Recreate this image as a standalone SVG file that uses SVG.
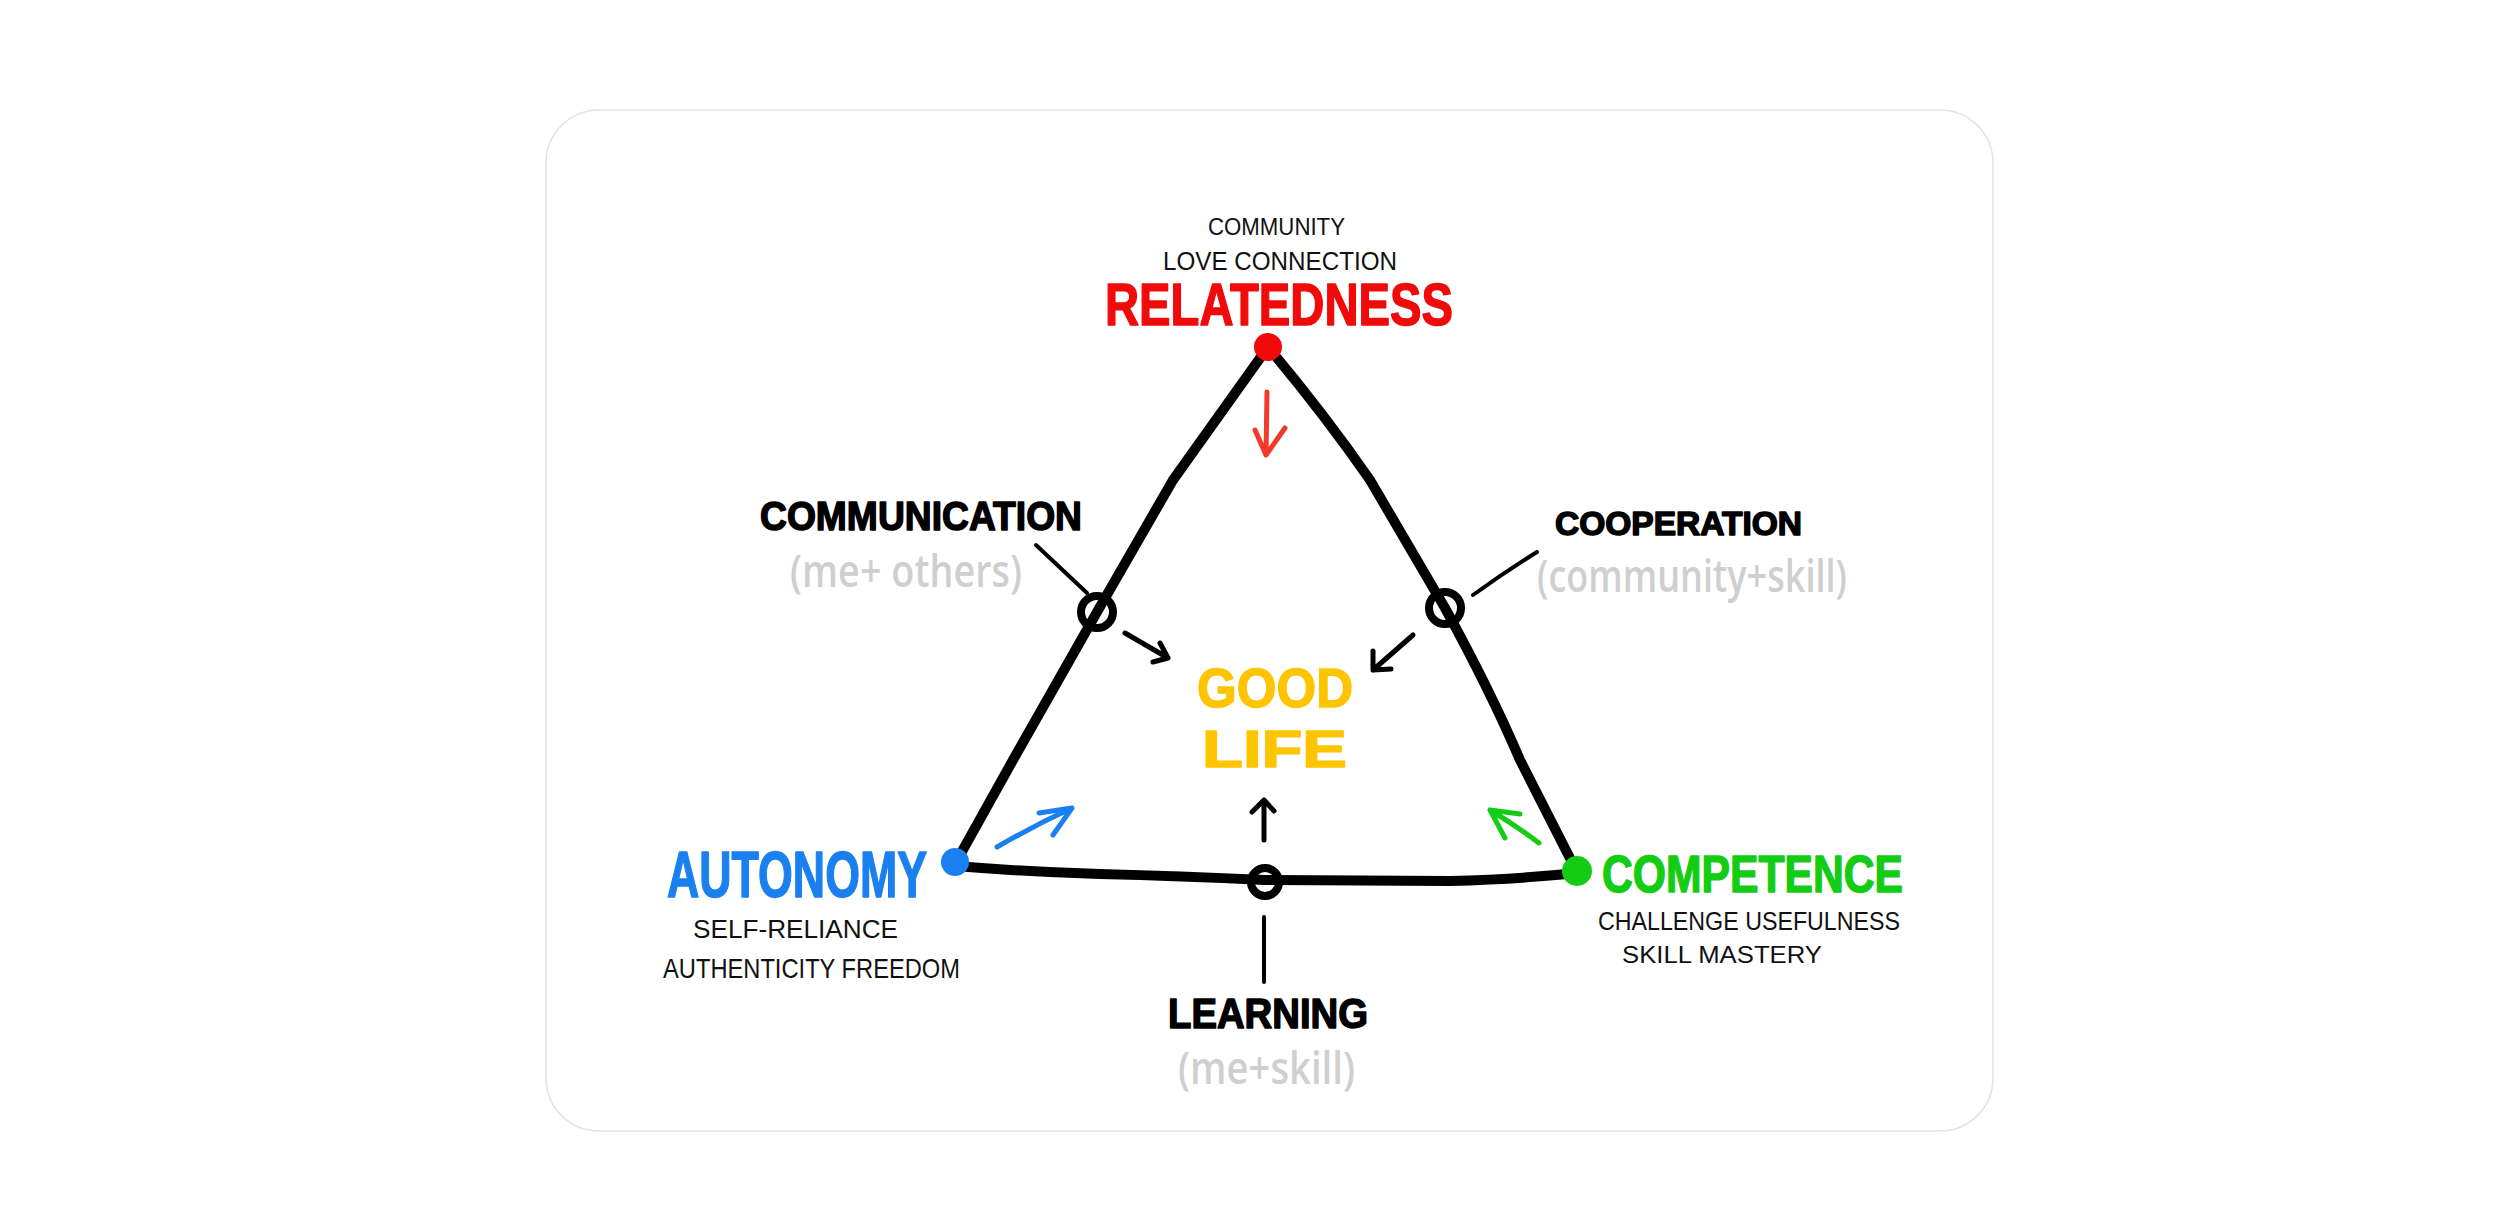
<svg xmlns="http://www.w3.org/2000/svg" width="2500" height="1216" viewBox="0 0 2500 1216">
<style>
text{font-family:"Liberation Sans",Arial,sans-serif}
.t{font-weight:bold;stroke-width:1.5;stroke-linejoin:round}
.s{fill:#111;font-weight:normal}
.g{fill:#cfcfcf;font-family:"Open Sans","Liberation Sans",sans-serif;font-weight:600}
.edge{fill:none;stroke:#000;stroke-width:10;stroke-linecap:round;stroke-linejoin:round}
.lead{fill:none;stroke:#000;stroke-width:4;stroke-linecap:round}
.arr{fill:none;stroke-width:5;stroke-linecap:round;stroke-linejoin:round}
.ring{fill:none;stroke:#000;stroke-width:8}
</style>
<rect x="0" y="0" width="2500" height="1216" fill="#ffffff"/>
<rect x="546" y="110" width="1447" height="1021" rx="53" fill="#ffffff" stroke="#e2e2e2" stroke-width="1.5"/>
<g id="connectors">
<path class="edge" d="M1268,347 L1173,480 L1097,612 L1013,760 L955,864"/>
<path class="edge" d="M1268,347 Q1325,415 1370,480 L1445,608 Q1490,690 1520,760 L1577,872"/>
<path class="edge" d="M955,866 Q1030,872 1100,874 Q1180,876 1265,880 L1450,881 Q1520,879 1577,873"/>
<path class="lead" d="M1036,545 L1087,593"/>
<path class="lead" d="M1537,552 Q1505,572 1473,595"/>
<path class="lead" d="M1264,917 L1264,982"/>
<path class="arr" stroke="#f23a2a" d="M1267,392 L1266,455 M1255,430 L1266,455 L1285,428"/>
<path class="arr" stroke="#000" d="M1125,633 L1168,658 M1160,643 L1168,658 L1153,662"/>
<path class="arr" stroke="#000" d="M1413,635 L1373,670 M1373,651 L1373,670 L1391,669"/>
<path class="arr" stroke="#000" d="M1264,840 L1264,800 M1252,812 L1264,800 L1274,811"/>
<path class="arr" stroke="#1a80f0" stroke-width="7" d="M997,847 Q1035,825 1072,808 M1039,813 L1072,808 L1053,835"/>
<path class="arr" stroke="#14cc14" stroke-width="7" d="M1539,843 Q1515,825 1490,810 M1520,814 L1490,810 L1505,838"/>
</g>
<g id="relatedness">
<circle cx="1268" cy="347" r="14" fill="#f00a0a"/>
<text class="s" x="1208" y="235" font-size="23" textLength="137" lengthAdjust="spacingAndGlyphs">COMMUNITY</text>
<text class="s" x="1163" y="270" font-size="26" textLength="234" lengthAdjust="spacingAndGlyphs">LOVE CONNECTION</text>
<text class="t" x="1105" y="325" font-size="60" fill="#f00a0a" stroke="#f00a0a" textLength="348" lengthAdjust="spacingAndGlyphs">RELATEDNESS</text>
</g>
<g id="autonomy">
<circle cx="955" cy="862" r="14" fill="#1a80f0"/>
<text class="t" x="667" y="897" font-size="64" fill="#1a80f0" stroke="#1a80f0" textLength="260" lengthAdjust="spacingAndGlyphs">AUTONOMY</text>
<text class="s" x="693" y="938" font-size="25" textLength="205" lengthAdjust="spacingAndGlyphs">SELF-RELIANCE</text>
<text class="s" x="663" y="978" font-size="28" textLength="297" lengthAdjust="spacingAndGlyphs">AUTHENTICITY FREEDOM</text>
</g>
<g id="competence">
<circle cx="1577" cy="871" r="15" fill="#14cc14"/>
<text class="t" x="1602" y="892" font-size="52" fill="#14cc14" stroke="#14cc14" textLength="301" lengthAdjust="spacingAndGlyphs">COMPETENCE</text>
<text class="s" x="1598" y="930" font-size="25" textLength="302" lengthAdjust="spacingAndGlyphs">CHALLENGE USEFULNESS</text>
<text class="s" x="1622" y="963" font-size="23" textLength="200" lengthAdjust="spacingAndGlyphs">SKILL MASTERY</text>
</g>
<g id="communication">
<circle class="ring" cx="1097" cy="612" r="16"/>
<text class="t" x="760" y="530" font-size="40" fill="#000" stroke="#000" stroke-width="1" textLength="322" lengthAdjust="spacingAndGlyphs">COMMUNICATION</text>
<text class="g" x="790" y="587" font-size="46" textLength="232" lengthAdjust="spacingAndGlyphs">(me+ others)</text>
</g>
<g id="cooperation">
<circle class="ring" cx="1445" cy="608" r="16"/>
<text class="t" x="1555" y="535" font-size="33" fill="#000" stroke="#000" stroke-width="1" textLength="247" lengthAdjust="spacingAndGlyphs">COOPERATION</text>
<text class="g" x="1537" y="592" font-size="46" textLength="310" lengthAdjust="spacingAndGlyphs">(community+skill)</text>
</g>
<g id="learning">
<circle class="ring" cx="1265" cy="882" r="14"/>
<text class="t" x="1168" y="1028" font-size="42" fill="#000" stroke="#000" stroke-width="1" textLength="200" lengthAdjust="spacingAndGlyphs">LEARNING</text>
<text class="g" x="1178" y="1084" font-size="46" textLength="177" lengthAdjust="spacingAndGlyphs">(me+skill)</text>
</g>
<g id="good-life">
<text class="t" x="1197" y="707" font-size="56" fill="#ffc400" stroke="#ffc400" stroke-width="2" textLength="156" lengthAdjust="spacingAndGlyphs">GOOD</text>
<text class="t" x="1202" y="767" font-size="52" fill="#ffc400" stroke="#ffc400" stroke-width="2" textLength="145" lengthAdjust="spacingAndGlyphs">LIFE</text>
</g>
</svg>
